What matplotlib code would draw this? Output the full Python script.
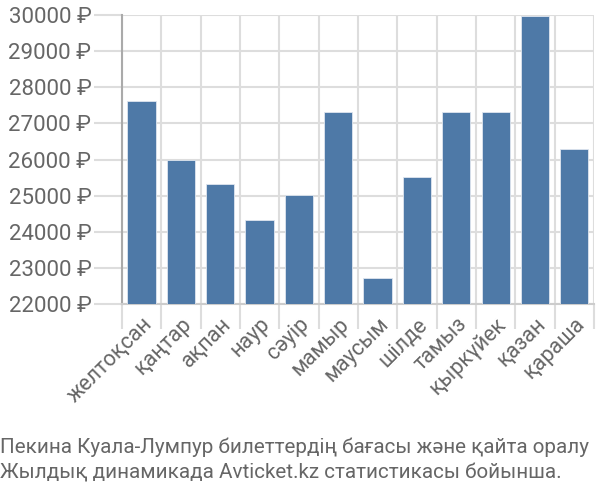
import matplotlib
matplotlib.use("Agg")
import matplotlib.pyplot as plt
from matplotlib import font_manager as fm
import numpy as np

months = ["желтоқсан", "қаңтар", "ақпан", "наур", "сәуір", "мамыр",
          "маусым", "шілде", "тамыз", "қыркүйек", "қазан", "қараша"]
prices = [27610, 25980, 25320, 24320, 25020, 27310,
          22720, 25510, 27310, 27310, 29980, 26290]
yticks = [22000, 23000, 24000, 25000, 26000, 27000, 28000, 29000, 30000]
caption = ["Пекина Куала-Лумпур билеттердің бағасы және қайта оралу",
           "Жылдық динамикада Avticket.kz статистикасы бойынша."]

names = {f.name for f in fm.fontManager.ttflist}
base = ["Roboto", "DejaVu Sans"]
narrow = ["Liberation Sans Narrow", "Roboto", "DejaVu Sans"] if "Liberation Sans Narrow" in names else base
cap_size = 16.5 if "Liberation Sans Narrow" in names else 14.9
plt.rcParams["font.family"] = base

txt = "#666666"
grid = "#dddddd"

fig = plt.figure(figsize=(6, 5), dpi=100)
ax = fig.add_axes([0.2033, 0.392, 0.7867, 0.578])

x = np.arange(len(months))
ax.bar(x, prices, width=0.72, color="#4e79a7", edgecolor="#dfe6ef", linewidth=0.6, zorder=3)
ax.set_ylim(22000, 30000)
ax.set_xlim(-0.5, len(months) - 0.5)

ax.set_yticks(yticks)
ax.set_yticklabels([f"{v} ₽" for v in yticks], fontsize=16, color=txt)
ax.tick_params(axis="y", length=20, width=1.5, color=grid, pad=2)
ax.yaxis.grid(True, color=grid, linewidth=1.5, zorder=0)

ax.set_xticks(x)
ax.set_xticklabels(months, rotation=45, ha="right", va="top", rotation_mode="anchor",
                   fontsize=15.5, color=txt)
ax.tick_params(axis="x", length=0, pad=7)
ax.set_xticks(np.arange(len(months) + 1) - 0.5, minor=True)
ax.tick_params(axis="x", which="minor", length=18, width=1.5, color=grid)
ax.xaxis.grid(True, which="minor", color=grid, linewidth=1.5, zorder=0)

for s in ["top", "right"]:
    ax.spines[s].set_visible(False)
ax.spines["left"].set_color("#aaaaaa")
ax.spines["left"].set_linewidth(1.5)
ax.spines["bottom"].set_color("#cccccc")
ax.spines["bottom"].set_linewidth(1.5)

fig.text(0.0, 1 - 447 / 500, caption[0], fontsize=cap_size, color=txt, family=narrow, va="center", ha="left")
fig.text(0.0, 1 - 473 / 500, caption[1], fontsize=cap_size, color=txt, family=narrow, va="center", ha="left")

fig.savefig("out.png", dpi=100)
